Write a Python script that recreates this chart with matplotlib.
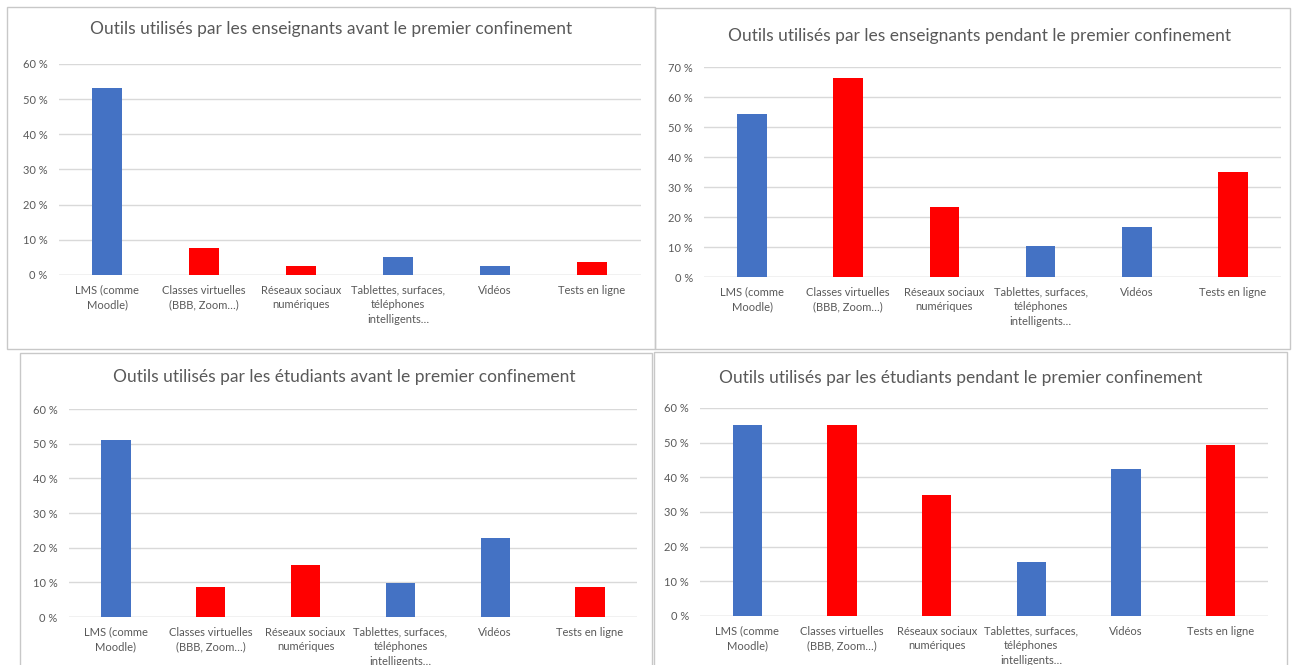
import matplotlib
matplotlib.use("Agg")
import matplotlib.pyplot as plt
from matplotlib.patches import Rectangle

plt.rcParams['font.family'] = ['Lato', 'DejaVu Sans']

W, H = 1292, 665

categories = ["LMS (comme\nMoodle)", "Classes virtuelles\n(BBB, Zoom…)", "Réseaux sociaux\nnumériques",
              "Tablettes, surfaces,\ntéléphones\nintelligents…", "Vidéos", "Tests en ligne"]
bar_colors = ["#4472C4", "#FF0000", "#FF0000", "#4472C4", "#4472C4", "#FF0000"]

titles = ["Outils utilisés par les enseignants avant le premier confinement",
          "Outils utilisés par les enseignants pendant le premier confinement",
          "Outils utilisés par les étudiants avant le premier confinement",
          "Outils utilisés par les étudiants pendant le premier confinement"]

ens_avant = [53.2, 7.8, 2.5, 5.1, 2.5, 3.8]
ens_pendant = [54.4, 66.2, 23.4, 10.2, 16.8, 35.1]
etu_avant = [51.0, 8.7, 14.9, 9.9, 22.8, 8.7]
etu_pendant = [55.1, 55.1, 35.0, 15.6, 42.4, 49.3]
series = [ens_avant, ens_pendant, etu_avant, etu_pendant]
ymaxes = [60, 70, 60, 60]

# layout in pixels: border (x0,y0,x1,y1), axes (x0,x1,ybottom,ytop), title center
borders = [(7, 7, 655, 349), (655, 8, 1290, 349), (20, 353, 652, 672), (654, 352, 1287, 672)]
axes_px = [(58.5, 640.5, 275, 64), (704, 1281, 277, 67), (68.6, 637.4, 617, 409), (700, 1268, 616, 408)]
title_pos = [(331, 29), (980, 36), (344, 377), (961, 378)]

fig = plt.figure(figsize=(W / 100, H / 100), dpi=100)
fig.patch.set_facecolor("white")

text_col = "#595959"
grid_col = "#D9D9D9"

for i in range(4):
    bx0, by0, bx1, by1 = borders[i]
    fig.patches.append(Rectangle((bx0 / W, 1 - by1 / H), (bx1 - bx0) / W, (by1 - by0) / H,
                                 transform=fig.transFigure, facecolor="none",
                                 edgecolor="#C8C8C8", linewidth=1.0, zorder=-1))
    ax0, ax1, ayb, ayt = axes_px[i]
    ax = fig.add_axes([ax0 / W, 1 - ayb / H, (ax1 - ax0) / W, (ayb - ayt) / H])
    ax.set_facecolor("none")
    x = list(range(len(categories)))
    ax.bar(x, series[i], width=0.31, color=bar_colors, zorder=3)
    ax.set_xlim(-0.5, len(categories) - 0.5)
    ax.set_ylim(0, ymaxes[i])
    ticks = list(range(0, ymaxes[i] + 1, 10))
    ax.set_yticks(ticks)
    ax.set_yticklabels([f"{t} %" for t in ticks])
    ax.set_xticks(x)
    ax.set_xticklabels(categories, fontsize=8, color=text_col, linespacing=1.4)
    ax.tick_params(axis='y', labelsize=8, colors=text_col, length=0, pad=8)
    ax.tick_params(axis='x', length=0, pad=7)
    ax.grid(axis='y', color=grid_col, linewidth=1.0, zorder=0)
    for s in ax.spines.values():
        s.set_visible(False)
    ax.axhline(0, color=grid_col, linewidth=1.0, zorder=1)
    tx, ty = title_pos[i]
    fig.text(tx / W, 1 - ty / H, titles[i], ha="center", va="center", fontsize=12.5, color=text_col)

fig.savefig("out.png", dpi=100, facecolor="white")
